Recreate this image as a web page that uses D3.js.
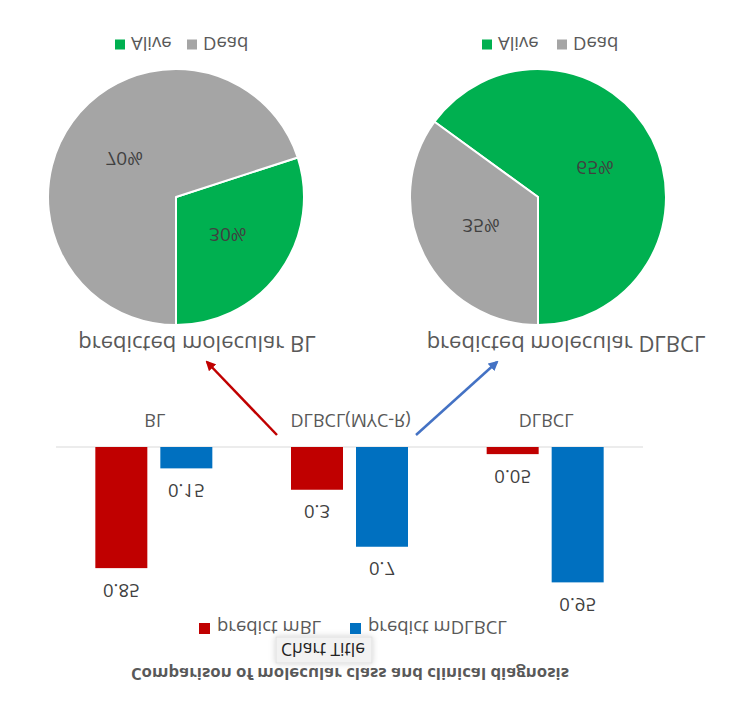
<!DOCTYPE html>
<html>
<head>
<meta charset="utf-8">
<script src="https://cdn.jsdelivr.net/npm/d3@7"></script>
<style>
  html, body { margin: 0; padding: 0; background: #ffffff; }
  svg { display: block; }
</style>
</head>
<body>
<script>
// ---------- data ----------
const categories = ["BL", "DLBCL(MYC-R)", "DLBCL"];
const seriesNames = ["predict mBL", "predict mDLBCL"];
const predictMBL = [0.85, 0.3, 0.05];
const predictMDLBCL = [0.15, 0.7, 0.95];
const seriesColors = ["#C00000", "#0070C0"];

const pieCategories = ["Alive", "Dead"];
const pieColors = ["#00B050", "#A5A5A5"];
const pieBL = [30, 70];
const pieDLBCL = [65, 35];
const pieTitles = ["predicted molecular BL", "predicted molecular DLBCL"];

const mainTitle = "Comparison of molecular class and clinical diagnosis";
const boxTitle = "Chart Title";

// ---------- layout ----------
const W = 731, H = 709;
const FONT = "'Open Sans', 'Noto Sans', sans-serif";
const TXT = "#595959";

const svg = d3.select("body").append("svg")
  .attr("width", W).attr("height", H);

const defs = svg.append("defs");
const shadow = defs.append("filter").attr("id", "shadow")
  .attr("x", "-20%").attr("y", "-40%").attr("width", "140%").attr("height", "180%");
shadow.append("feDropShadow").attr("dx", 0).attr("dy", 0)
  .attr("stdDeviation", 3).attr("flood-color", "#000").attr("flood-opacity", 0.18);

const arrowColors = ["#C00000", "#4472C4"];
arrowColors.forEach((c, i) => {
  defs.append("marker").attr("id", "arrow" + i)
    .attr("viewBox", "0 0 10 10").attr("refX", 8).attr("refY", 5)
    .attr("markerWidth", 4).attr("markerHeight", 4).attr("orient", "auto")
    .append("path").attr("d", "M0,0 L10,5 L0,10 z").attr("fill", c);
});

// The whole picture is mirrored top-to-bottom
const g = svg.append("g").attr("transform", `translate(0,${H}) scale(1,-1)`);

// ---------- title + box ----------
g.append("text")
  .attr("x", 350).attr("y", H - 674)
  .attr("text-anchor", "middle").attr("dominant-baseline", "central")
  .attr("font-family", FONT).attr("font-weight", "bold").attr("font-size", 16.8)
  .attr("fill", TXT).text(mainTitle);

g.append("rect")
  .attr("x", 276).attr("y", H - 663).attr("width", 96).attr("height", 26)
  .attr("fill", "#F2F2F2").attr("stroke", "#E0E0E0").attr("filter", "url(#shadow)");
g.append("text")
  .attr("x", 323).attr("y", H - 650)
  .attr("text-anchor", "middle").attr("dominant-baseline", "central")
  .attr("font-family", FONT).attr("font-size", 17.5).attr("fill", "#222")
  .text(boxTitle);

// ---------- bar legend ----------
const barLegendX = [199, 350];
seriesNames.forEach((s, i) => {
  g.append("rect").attr("x", barLegendX[i]).attr("y", H - 628.5 - 5.5)
    .attr("width", 11).attr("height", 11).attr("fill", seriesColors[i]);
  g.append("text").attr("x", barLegendX[i] + 18).attr("y", H - 628.5)
    .attr("dominant-baseline", "central")
    .attr("font-family", FONT).attr("font-size", 18.5).attr("fill", TXT).text(s);
});

// ---------- bar chart ----------
const baseY = H - 447;
const x0 = d3.scaleBand().domain(categories).range([56, 643]);
const groupW = 117;
const x1 = d3.scaleBand().domain(seriesNames).range([0, groupW]).paddingInner(0.2);
const y = d3.scaleLinear().domain([0, 1]).range([baseY, baseY - 142.5]);

const seriesData = [predictMBL, predictMDLBCL];
const rows = [];
categories.forEach((c, ci) => {
  seriesNames.forEach((s, si) => rows.push({ c, s, si, v: seriesData[si][ci] }));
});
const gx = c => x0(c) + (x0.bandwidth() - groupW) / 2;

g.append("line")
  .attr("x1", x0.range()[0]).attr("x2", x0.range()[1])
  .attr("y1", baseY).attr("y2", baseY)
  .attr("stroke", "#D9D9D9").attr("stroke-width", 1);

g.selectAll("rect.bar").data(rows).enter().append("rect").attr("class", "bar")
  .attr("x", d => gx(d.c) + x1(d.s))
  .attr("y", d => y(d.v))
  .attr("width", x1.bandwidth())
  .attr("height", d => baseY - y(d.v))
  .attr("fill", d => seriesColors[d.si]);

g.selectAll("text.dl").data(rows).enter().append("text").attr("class", "dl")
  .attr("x", d => gx(d.c) + x1(d.s) + x1.bandwidth() / 2)
  .attr("y", d => y(d.v) - 23)
  .attr("text-anchor", "middle").attr("dominant-baseline", "central")
  .attr("font-family", FONT).attr("font-size", 18.5).attr("fill", "#404040")
  .text(d => d.v);

g.selectAll("text.cat").data(categories).enter().append("text").attr("class", "cat")
  .attr("x", c => x0(c) + x0.bandwidth() / 2 + 1)
  .attr("y", H - 421)
  .attr("text-anchor", "middle").attr("dominant-baseline", "central")
  .attr("font-family", FONT).attr("font-size", 18).attr("fill", TXT)
  .text(c => c);

// ---------- arrows ----------
const arrows = [
  { x1: 277, y1: H - 435, x2: 207, y2: H - 362, m: 0 },
  { x1: 416, y1: H - 435, x2: 497, y2: H - 362, m: 1 }
];
arrows.forEach(a => {
  g.append("line").attr("x1", a.x1).attr("y1", a.y1).attr("x2", a.x2).attr("y2", a.y2)
    .attr("stroke", arrowColors[a.m]).attr("stroke-width", 2.5)
    .attr("marker-end", `url(#arrow${a.m})`);
});

// ---------- pies ----------
const R = 128;
const pieCenters = [[176, H - 197], [538, H - 197]];
const pieTitleX = [197, 566];
const pieLegendX = [[115, 187], [482, 557]];
const pieGen = d3.pie().sort(null).value(d => d);
const arcGen = d3.arc().innerRadius(0).outerRadius(R);
[pieBL, pieDLBCL].forEach((vals, pi) => {
  const pg = g.append("g").attr("transform", `translate(${pieCenters[pi][0]},${pieCenters[pi][1]})`);
  const arcs = pieGen(vals);
  pg.selectAll("path").data(arcs).enter().append("path")
    .attr("d", arcGen)
    .attr("fill", (d, i) => pieColors[i])
    .attr("stroke", "#fff").attr("stroke-width", 2).attr("stroke-linejoin", "round");
  pg.selectAll("text").data(arcs).enter().append("text")
    .attr("transform", d => `translate(${arcGen.centroid(d)})`)
    .attr("text-anchor", "middle").attr("dominant-baseline", "central")
    .attr("font-family", FONT).attr("font-size", 19).attr("fill", "#404040")
    .text(d => d.data + "%");

  g.append("text").attr("x", pieTitleX[pi]).attr("y", H - 345)
    .attr("text-anchor", "middle").attr("dominant-baseline", "central")
    .attr("font-family", FONT).attr("font-size", 22).attr("fill", TXT)
    .text(pieTitles[pi]);

  pieCategories.forEach((c, ci) => {
    const lx = pieLegendX[pi][ci];
    g.append("rect").attr("x", lx).attr("y", H - 44.5 - 5)
      .attr("width", 10).attr("height", 10).attr("fill", pieColors[ci]);
    g.append("text").attr("x", lx + 16).attr("y", H - 44.5)
      .attr("dominant-baseline", "central")
      .attr("font-family", FONT).attr("font-size", 18.5).attr("fill", TXT).text(c);
  });
});
</script>
</body>
</html>
